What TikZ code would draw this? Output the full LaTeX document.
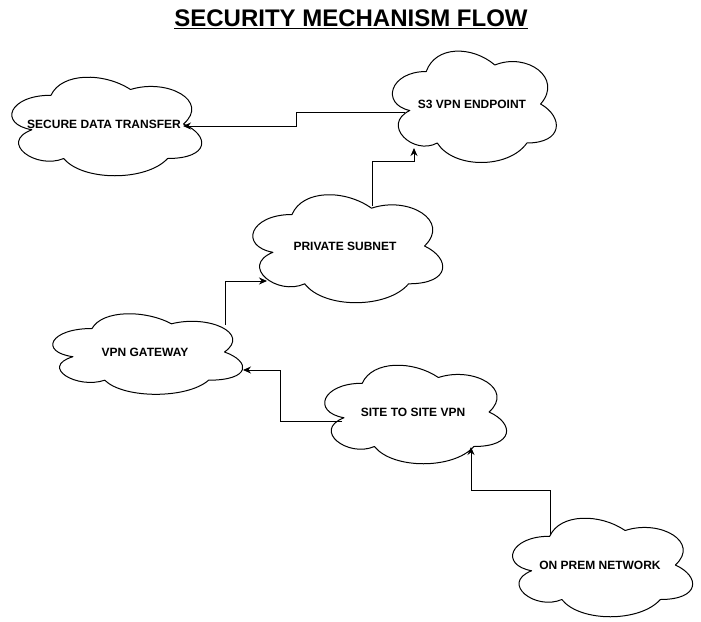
\documentclass[tikz,border=0pt]{standalone}
\usepackage{fontspec}
\setmainfont{Liberation Sans}
\usetikzlibrary{arrows.meta}
\tikzset{
  cloudline/.style={draw=black, line width=1pt, line join=round},
  lbl/.style={font=\fontsize{12}{14}\selectfont\bfseries, inner sep=0pt},
  conn/.style={draw=black, line width=1pt, -{Stealth[length=8pt,width=7pt]}},
}
\newcommand\mycloud[6]{%
  \begin{scope}[shift={(#2,#3)},xscale=#4,yscale=#5]
    \draw[cloudline] (-0.25,-0.25) .. controls (-0.45,-0.25) and (-0.5,0) .. (-0.34,0.05)
      .. controls (-0.5,0.16) and (-0.32,0.4) .. (-0.19,0.3)
      .. controls (-0.1,0.5) and (0.2,0.5) .. (0.3,0.3)
      .. controls (0.5,0.3) and (0.5,0.1) .. (0.375,0)
      .. controls (0.5,-0.2) and (0.3,-0.4) .. (0.125,-0.3)
      .. controls (0,-0.45) and (-0.2,-0.45) .. (-0.25,-0.25) -- cycle;
  \end{scope}
  \node[lbl] (#1) at (#2,#3) {#6};
}
\begin{document}
\begin{tikzpicture}[x=1pt,y=-1pt]
\useasboundingbox[fill=white] (0,0) rectangle (701,621);
\node[font=\fontsize{24}{28}\selectfont\bfseries, inner sep=0pt] (title) at (351,19) {\underline{SECURITY MECHANISM FLOW}};

\mycloud{secure}{104}{124}{212}{115}{SECURE DATA TRANSFER}
\mycloud{s3}{472}{104}{183}{130}{S3 VPN ENDPOINT}
\mycloud{private}{345}{246}{212}{126}{PRIVATE SUBNET}
\mycloud{vpngw}{145}{352}{212}{94}{VPN GATEWAY}
\mycloud{site}{413}{412}{203}{115}{SITE TO SITE VPN}
\mycloud{onprem}{600}{565}{201}{115}{ON PREM NETWORK}

% connector end points on the cloud outlines
\coordinate (s3-w) at (405,112);
\coordinate (secure-e) at (183,126);
\coordinate (private-n) at (372,206);
\coordinate (s3-s) at (414,148);
\coordinate (vpngw-ne) at (225,325);
\coordinate (private-w) at (267,281);
\coordinate (site-w) at (342,421);
\coordinate (vpngw-e) at (243,370);
\coordinate (onprem-n) at (550,535);
\coordinate (site-s) at (471,447);

\draw[conn] (s3-w) -- (296,112) -- (296,126) -- (secure-e);
\draw[conn] (private-n) -- (372,161) -- (414,161) -- (s3-s);
\draw[conn] (vpngw-ne) -- (225,281) -- (private-w);
\draw[conn] (site-w) -- (280,421) -- (280,370) -- (vpngw-e);
\draw[conn] (onprem-n) -- (550,490) -- (471,490) -- (site-s);
\end{tikzpicture}
\end{document}
